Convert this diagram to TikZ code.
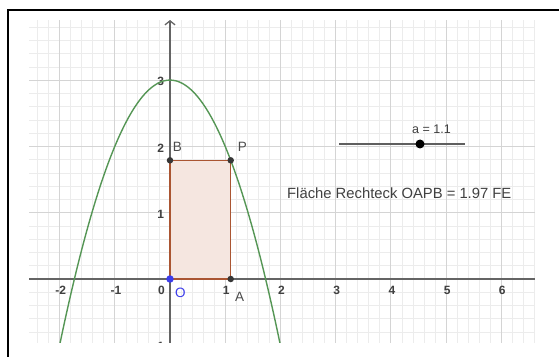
\documentclass[tikz,border=0pt]{standalone}
\usepackage{fontspec}
\setmainfont{Liberation Sans}
\usetikzlibrary{arrows.meta}
\definecolor{gridmajor}{RGB}{212,212,212}
\definecolor{gridminor}{RGB}{236,236,236}
\definecolor{axisgray}{RGB}{100,100,100}
\definecolor{fgreen}{RGB}{85,150,85}
\definecolor{polybrown}{RGB}{170,85,50}
\definecolor{polyfill}{RGB}{245,230,224}
\definecolor{ptgray}{RGB}{55,55,55}
\definecolor{ptblue}{RGB}{60,60,235}
\definecolor{slidergray}{RGB}{95,95,95}
\begin{document}
\begin{tikzpicture}[x=55.2pt,y=66.3pt,
  ticklab/.style={font=\fontsize{12}{12}\selectfont\bfseries, text=black!75, inner sep=0pt},
  ptlab/.style={font=\fontsize{13.5}{13.5}\selectfont, text=black!70, inner sep=0pt, anchor=base west},
  pt/.style={circle, fill=ptgray, inner sep=0pt, minimum size=6.5pt},
  axisline/.style={axisgray, line width=1.3pt},
  ]
\useasboundingbox[fill=white] (-3.0797,-1.1614) rectangle (7.0471,4.2081);
% frame
\coordinate (fbl) at (-2.929,-1.3);
\coordinate (ftl) at (-2.929,4.053);
\coordinate (ftr) at (7.2,4.053);
\draw[black, line width=2.2pt] (fbl) -- (ftl) -- (ftr);
% grid, function, tick labels
\begin{scope}
\clip (-2.554,-0.965) rectangle (6.612,3.906);
\draw[gridminor, line width=0.6pt, step=0.2] (-3,-2) grid (7,4);
\draw[gridmajor, line width=0.9pt, step=1] (-3,-2) grid (7,4);
\foreach \v in {-2,-1,1,2,3,4,5,6}{
  \node[ticklab, anchor=base] (xt\v) at (\v+0.02,-0.2413) {\v};
}
\node[ticklab, anchor=base] (xt0) at (-0.154,-0.2413) {0};
\foreach \v in {-1,1,2,3}{
  \node[ticklab, anchor=base east] (yt\v) at (-0.103,\v-0.085) {\v};
}
\end{scope}
% axes
\coordinate (xl) at (-2.554,0);
\coordinate (xr) at (6.612,0);
\coordinate (yb) at (0,-0.965);
\coordinate (yt) at (0,3.906);
\draw[axisline] (xl) -- (xr);
\draw[axisline, -{Straight Barb[length=4pt,width=10pt]}] (yb) -- (yt);
% rectangle
\coordinate (O) at (0,0);
\coordinate (A) at (1.1,0);
\coordinate (P) at (1.1,1.79);
\coordinate (B) at (0,1.79);
\fill[polyfill] (O) rectangle (P);
\draw[polybrown, line width=1.4pt] (O) -- (A) -- (P) -- (B) -- cycle;
% function
\begin{scope}
\clip (-2.554,-0.965) rectangle (6.612,3.906);
\draw[fgreen, line width=1.4pt, domain=-2.05:2.05, samples=120, smooth] plot (\x,{3-\x*\x});
\end{scope}
% points
\node[pt] (Bdot) at (B) {};
\node[pt] (Pdot) at (P) {};
\node[pt] (Adot) at (A) {};
\node[pt, fill=ptblue, minimum size=7.5pt] (Odot) at (O) {};
% point labels
\node[ptlab] (Blab) at (0.0489,1.920) {B};
\node[ptlab] (Plab) at (1.2264,1.923) {P};
\node[ptlab] (Alab) at (1.1775,-0.342) {A};
\node[ptlab, text=ptblue] (Olab) at (0.0906,-0.2715) {O};
% slider
\coordinate (s1) at (3.0616,2.0362);
\coordinate (s2) at (5.3442,2.0362);
\draw[slidergray, line width=2pt] (s1) -- (s2);
\node[circle, fill=black, inner sep=0pt, minimum size=9pt] (sdot) at (4.529,2.0362) {};
\node[font=\fontsize{12.5}{12.5}\selectfont, text=black!75, inner sep=0pt, anchor=base west] (alab) at (4.384,2.202) {a = 1.1};
% area text
\node[font=\fontsize{14.8}{14.8}\selectfont, text=black!75, inner sep=0pt, anchor=base west] (area) at (2.1196,1.2217) {Fläche Rechteck OAPB = 1.97 FE};
\end{tikzpicture}
\end{document}
